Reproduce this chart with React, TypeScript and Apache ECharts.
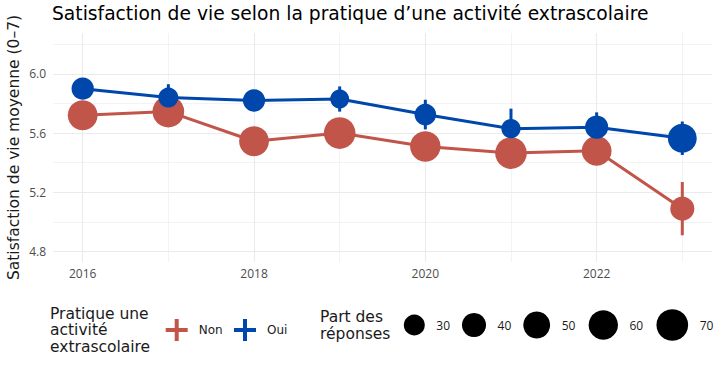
import React, { useEffect, useRef } from "react";
import * as echarts from "echarts";

// ---- Data ----
const years = [2016, 2017, 2018, 2019, 2020, 2021, 2022, 2023];
const nonMean = [5.72, 5.745, 5.545, 5.6, 5.51, 5.465, 5.48, 5.09];
const ouiMean = [5.9, 5.84, 5.82, 5.83, 5.725, 5.63, 5.64, 5.565];
const nonErr = [0.06, 0.07, 0.07, 0.08, 0.07, 0.07, 0.08, 0.18];
const ouiErr = [0.06, 0.09, 0.07, 0.085, 0.1, 0.135, 0.1, 0.113];
const nonShare = [62, 70, 62, 70, 65, 70, 62, 40];
const ouiShare = [34, 27, 34, 24, 32, 25, 37, 58];
const sizeBreaks = [30, 40, 50, 60, 70];
const groupLabels = ["Non", "Oui"];
const majorYTicks = [4.8, 5.2, 5.6, 6.0];
const majorXTicks = [2016, 2018, 2020, 2022];

const TITLE = "Satisfaction de vie selon la pratique d\u2019une activit\u00e9 extrascolaire";
const Y_NAME = "Satisfaction de vie moyenne (0\u20137)";
const LEG1_TITLE = ["Pratique une", "activit\u00e9", "extrascolaire"];
const LEG2_TITLE = ["Part des", "r\u00e9ponses"];

const RED = "#c1554a";
const BLUE = "#0047ab";
const GRID_COL = "#ebebeb";
const FONT = "Open Sans";
const FONT2 = "DejaVu Sans";

const sizeFn = (s: number) => Math.sqrt(14.1 * s + 18);

export default function App() {
  const ref = useRef<HTMLDivElement>(null);

  useEffect(() => {
    if (!ref.current) return;
    const chart = echarts.init(ref.current, undefined, { renderer: "svg" });

    // panel geometry
    const W = 720, H = 371;
    const xL = 82.7, xR = 682.3; // pixel of 2016 / 2023
    const yTop = 44.2, yBot = 251.6; // pixel of 6.2 / 4.8
    const step = (xR - xL) / 7;
    const ystep = (yBot - yTop) / 7; // per 0.2
    const panelTop = 33, panelBot = 262, panelLeft = 53, panelRight = 712;

    const hidden = { show: false };
    const hiddenAxis = (extra: any) => ({
      axisLine: hidden, axisTick: hidden, axisLabel: hidden, splitLine: hidden, ...extra,
    });

    const errSeries = (mean: number[], err: number[], color: string) => ({
      type: "custom",
      xAxisIndex: 4,
      yAxisIndex: 4,
      data: years.map((y, i) => [y, mean[i] - err[i], mean[i] + err[i]]),
      encode: { x: 0, y: [1, 2] },
      renderItem: (params: any, api: any) => {
        const p1 = api.coord([api.value(0), api.value(1)]);
        const p2 = api.coord([api.value(0), api.value(2)]);
        return {
          type: "line",
          shape: { x1: p1[0], y1: p1[1], x2: p2[0], y2: p2[1] },
          style: { stroke: color, lineWidth: 3 },
        };
      },
      silent: true,
    });

    const lineSeries = (mean: number[], color: string) => ({
      type: "line",
      xAxisIndex: 4,
      yAxisIndex: 4,
      data: years.map((y, i) => [y, mean[i]]),
      showSymbol: false,
      symbol: "none",
      lineStyle: { color, width: 3 },
      silent: true,
    });

    const pointSeries = (mean: number[], share: number[], color: string) => ({
      type: "scatter",
      xAxisIndex: 4,
      yAxisIndex: 4,
      data: years.map((y, i) => [y, mean[i], share[i]]),
      symbolSize: (v: number[]) => sizeFn(v[2]),
      itemStyle: { color, opacity: 1 },
      silent: true,
    });

    // legend graphics
    const legendGraphics: any[] = [];
    LEG1_TITLE.forEach((t, i) => {
      legendGraphics.push({
        type: "text", x: 50, y: 313.5 + i * 16.5,
        style: { text: t, font: `15.5px "${FONT2}"`, fill: "#1a1a1a", verticalAlign: "middle" },
      });
    });
    const crossX = [176.7, 245];
    const crossColors = [RED, BLUE];
    crossX.forEach((cx, i) => {
      legendGraphics.push({
        type: "line", shape: { x1: cx - 11, y1: 330, x2: cx + 11, y2: 330 },
        style: { stroke: crossColors[i], lineWidth: 4 },
      });
      legendGraphics.push({
        type: "line", shape: { x1: cx, y1: 319, x2: cx, y2: 341 },
        style: { stroke: crossColors[i], lineWidth: 4 },
      });
      legendGraphics.push({
        type: "text", x: cx + 22, y: 330,
        style: { text: groupLabels[i], font: `12px "${FONT2}"`, fill: "#1a1a1a", verticalAlign: "middle" },
      });
    });
    LEG2_TITLE.forEach((t, i) => {
      legendGraphics.push({
        type: "text", x: 320, y: 317 + i * 16.5,
        style: { text: t, font: `15.5px "${FONT2}"`, fill: "#1a1a1a", verticalAlign: "middle" },
      });
    });
    const circleX = [414.3, 474, 536.7, 603.3, 672.3];
    sizeBreaks.forEach((s, i) => {
      const r = sizeFn(s) / 2;
      legendGraphics.push({
        type: "circle", shape: { cx: circleX[i], cy: 325, r },
        style: { fill: "#000" },
      });
      legendGraphics.push({
        type: "text", x: circleX[i] + r + 11.5, y: 325,
        style: { text: String(s), font: `12px "${FONT}"`, fill: "#1a1a1a", verticalAlign: "middle" },
      });
    });
    legendGraphics.push({
      type: "text", x: 13.5, y: (panelTop + panelBot) / 2, rotation: Math.PI / 2,
      style: { text: Y_NAME, font: `15.5px "${FONT2}"`, fill: "#1a1a1a", align: "center", verticalAlign: "middle" },
    });

    const option: any = {
      animation: false,
      backgroundColor: "#ffffff",
      textStyle: { fontFamily: FONT },
      title: {
        text: TITLE, left: 52, top: 3.5, padding: 0,
        textStyle: { fontSize: 18.7, fontWeight: "normal", color: "#000", fontFamily: FONT2 },
      },
      grid: [
        // 0: major horizontal gridlines (4.8..6.0)
        { left: panelLeft, right: W - panelRight, top: yBot - 6 * ystep, bottom: H - yBot },
        // 1: minor horizontal gridlines (5.0..6.2)
        { left: panelLeft, right: W - panelRight, top: yTop, bottom: H - (yBot - ystep) },
        // 2: major vertical gridlines (2016..2022)
        { left: xL, right: W - (xL + 6 * step), top: panelTop, bottom: H - panelBot },
        // 3: minor vertical gridlines (2017..2023)
        { left: xL + step, right: W - xR, top: panelTop, bottom: H - panelBot },
        // 4: data
        { left: xL, right: W - xR, top: yTop, bottom: H - yBot },
      ],
      xAxis: [
        hiddenAxis({ type: "value", gridIndex: 0, min: 0, max: 1 }),
        hiddenAxis({ type: "value", gridIndex: 1, min: 0, max: 1 }),
        {
          type: "value", gridIndex: 2, min: majorXTicks[0], max: majorXTicks[majorXTicks.length - 1], interval: 2,
          axisLine: hidden, axisTick: hidden,
          axisLabel: { color: "#4d4d4d", fontSize: 12, margin: 5, fontFamily: FONT, formatter: (v: number) => String(v) },
          splitLine: { show: true, lineStyle: { color: GRID_COL, width: 1.1 } },
        },
        {
          type: "value", gridIndex: 3, min: 2017, max: 2023, interval: 2,
          axisLine: hidden, axisTick: hidden, axisLabel: hidden,
          splitLine: { show: true, lineStyle: { color: GRID_COL, width: 0.6 } },
        },
        hiddenAxis({ type: "value", gridIndex: 4, min: years[0], max: years[years.length - 1] }),
      ],
      yAxis: [
        {
          type: "value", gridIndex: 0, min: majorYTicks[0], max: majorYTicks[majorYTicks.length - 1], interval: 0.4,
          axisLine: hidden, axisTick: hidden,
          axisLabel: { color: "#4d4d4d", fontSize: 12, margin: 7, fontFamily: FONT, formatter: (v: number) => v.toFixed(1) },
          splitLine: { show: true, lineStyle: { color: GRID_COL, width: 1.1 } },
        },
        {
          type: "value", gridIndex: 1, min: 5.0, max: 6.2, interval: 0.4,
          axisLine: hidden, axisTick: hidden, axisLabel: hidden,
          splitLine: { show: true, lineStyle: { color: GRID_COL, width: 0.6 } },
        },
        hiddenAxis({ type: "value", gridIndex: 2, min: 0, max: 1 }),
        hiddenAxis({ type: "value", gridIndex: 3, min: 0, max: 1 }),
        hiddenAxis({ type: "value", gridIndex: 4, min: 4.8, max: 6.2 }),
      ],
      graphic: legendGraphics,
      series: [
        lineSeries(nonMean, RED),
        lineSeries(ouiMean, BLUE),
        errSeries(nonMean, nonErr, RED),
        pointSeries(nonMean, nonShare, RED),
        errSeries(ouiMean, ouiErr, BLUE),
        pointSeries(ouiMean, ouiShare, BLUE),
      ],
    };
    chart.setOption(option);
    return () => chart.dispose();
  }, []);

  return (
    <div
      ref={ref}
      style={{ position: "fixed", left: 0, top: 0, width: 720, height: 371, background: "#fff" }}
    />
  );
}
